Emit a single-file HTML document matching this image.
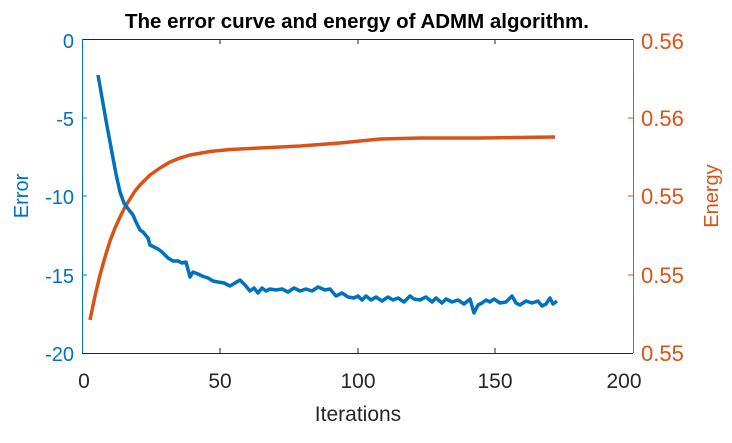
<!DOCTYPE html><html><head><style>body{margin:0;background:#fff}</style></head><body>
<svg width="732" height="438" viewBox="0 0 732 438" xmlns="http://www.w3.org/2000/svg" style="font-family:'Liberation Sans',sans-serif">
<rect width="732" height="438" fill="#fff"/>
<text x="357" y="28" font-size="20.5" font-weight="bold" text-anchor="middle" fill="#000">The error curve and energy of ADMM algorithm.</text>
<g stroke="#262626" stroke-width="1" fill="none">
<line x1="82" y1="39.5" x2="633" y2="39.5"/>
<line x1="82" y1="353.5" x2="633" y2="353.5"/>
<line x1="220" y1="353" x2="220" y2="348"/><line x1="358" y1="353" x2="358" y2="348"/><line x1="495" y1="353" x2="495" y2="348"/>
<line x1="220" y1="39" x2="220" y2="44"/><line x1="358" y1="39" x2="358" y2="44"/><line x1="495" y1="39" x2="495" y2="44"/>
</g>
<g stroke="#0072bd" stroke-width="1">
<line x1="82.5" y1="39" x2="82.5" y2="353"/>
<line x1="82" y1="118" x2="87" y2="118"/><line x1="82" y1="196" x2="87" y2="196"/><line x1="82" y1="275" x2="87" y2="275"/>
</g>
<g stroke="#d95319" stroke-width="1">
<line x1="633.5" y1="39" x2="633.5" y2="353"/>
<line x1="633" y1="118" x2="628" y2="118"/><line x1="633" y1="196" x2="628" y2="196"/><line x1="633" y1="275" x2="628" y2="275"/>
</g>
<g font-size="20" fill="#0072bd" text-anchor="end">
<text x="74" y="48">0</text><text x="74" y="126">-5</text><text x="74" y="204">-10</text><text x="74" y="283">-15</text><text x="74" y="361">-20</text>
</g>
<g font-size="22" fill="#d95319">
<text x="641" y="49">0.56</text><text x="641" y="126">0.56</text><text x="641" y="204">0.55</text><text x="641" y="283">0.55</text><text x="641" y="361">0.55</text>
</g>
<g font-size="21" fill="#262626" text-anchor="middle">
<text x="84" y="388">0</text><text x="220" y="388">50</text><text x="358" y="388">100</text><text x="495" y="388">150</text><text x="624" y="388">200</text>
<text x="358" y="421">Iterations</text>
</g>
<text transform="translate(28,196) rotate(-90)" font-size="20" fill="#0072bd" text-anchor="middle">Error</text>
<text transform="translate(718,196) rotate(-90)" font-size="20" fill="#d95319" text-anchor="middle">Energy</text>
<polyline fill="none" stroke="#d95319" stroke-width="3.5" stroke-linejoin="round" points="90,320 95,296 100,275 105,257 110,241 115,228 120,217 125,207 130,199 135,191 140,185 150,175 160,168 170,162 180,158 190,155 210,151.5 230,149.5 260,148 300,146 340,143 380,139 420,138 480,138 555,137"/>
<polyline fill="none" stroke="#0072bd" stroke-width="3.5" stroke-linejoin="round" points="98,75 101,92 104,109 107,126 110,142 113,158 116,174 120,192 124,203 129,210 133,215 136,222 140,230 143,232 148,238 150,245 154,247 158,249 162,252 165,255 168,258 173,261 178,261 182,263 186,262 190,277 193,272 198,274 202,276 208,278 213,281 218,282 224,283 230,286 235,283 240,280 245,285 250,291 254,288 258,293 262,288 266,291 270,289 276,290 282,289 288,292 294,288 300,291 306,289 312,291 318,287 325,290 330,289 336,296 342,293 348,297 354,298 358,296 362,300 366,296 371,300 376,297 382,301 388,297 393,300 398,298 404,302 410,296 414,299 420,300 426,297 432,302 436,298 442,303 446,299 452,302 458,300 464,304 470,299 474,313 478,305 482,303 486,300 490,302 494,299 500,303 506,302 512,296 516,303 520,305 526,301 532,303 538,301 542,306 546,304 550,298 553,304 557,301"/>
</svg>
</body></html>
